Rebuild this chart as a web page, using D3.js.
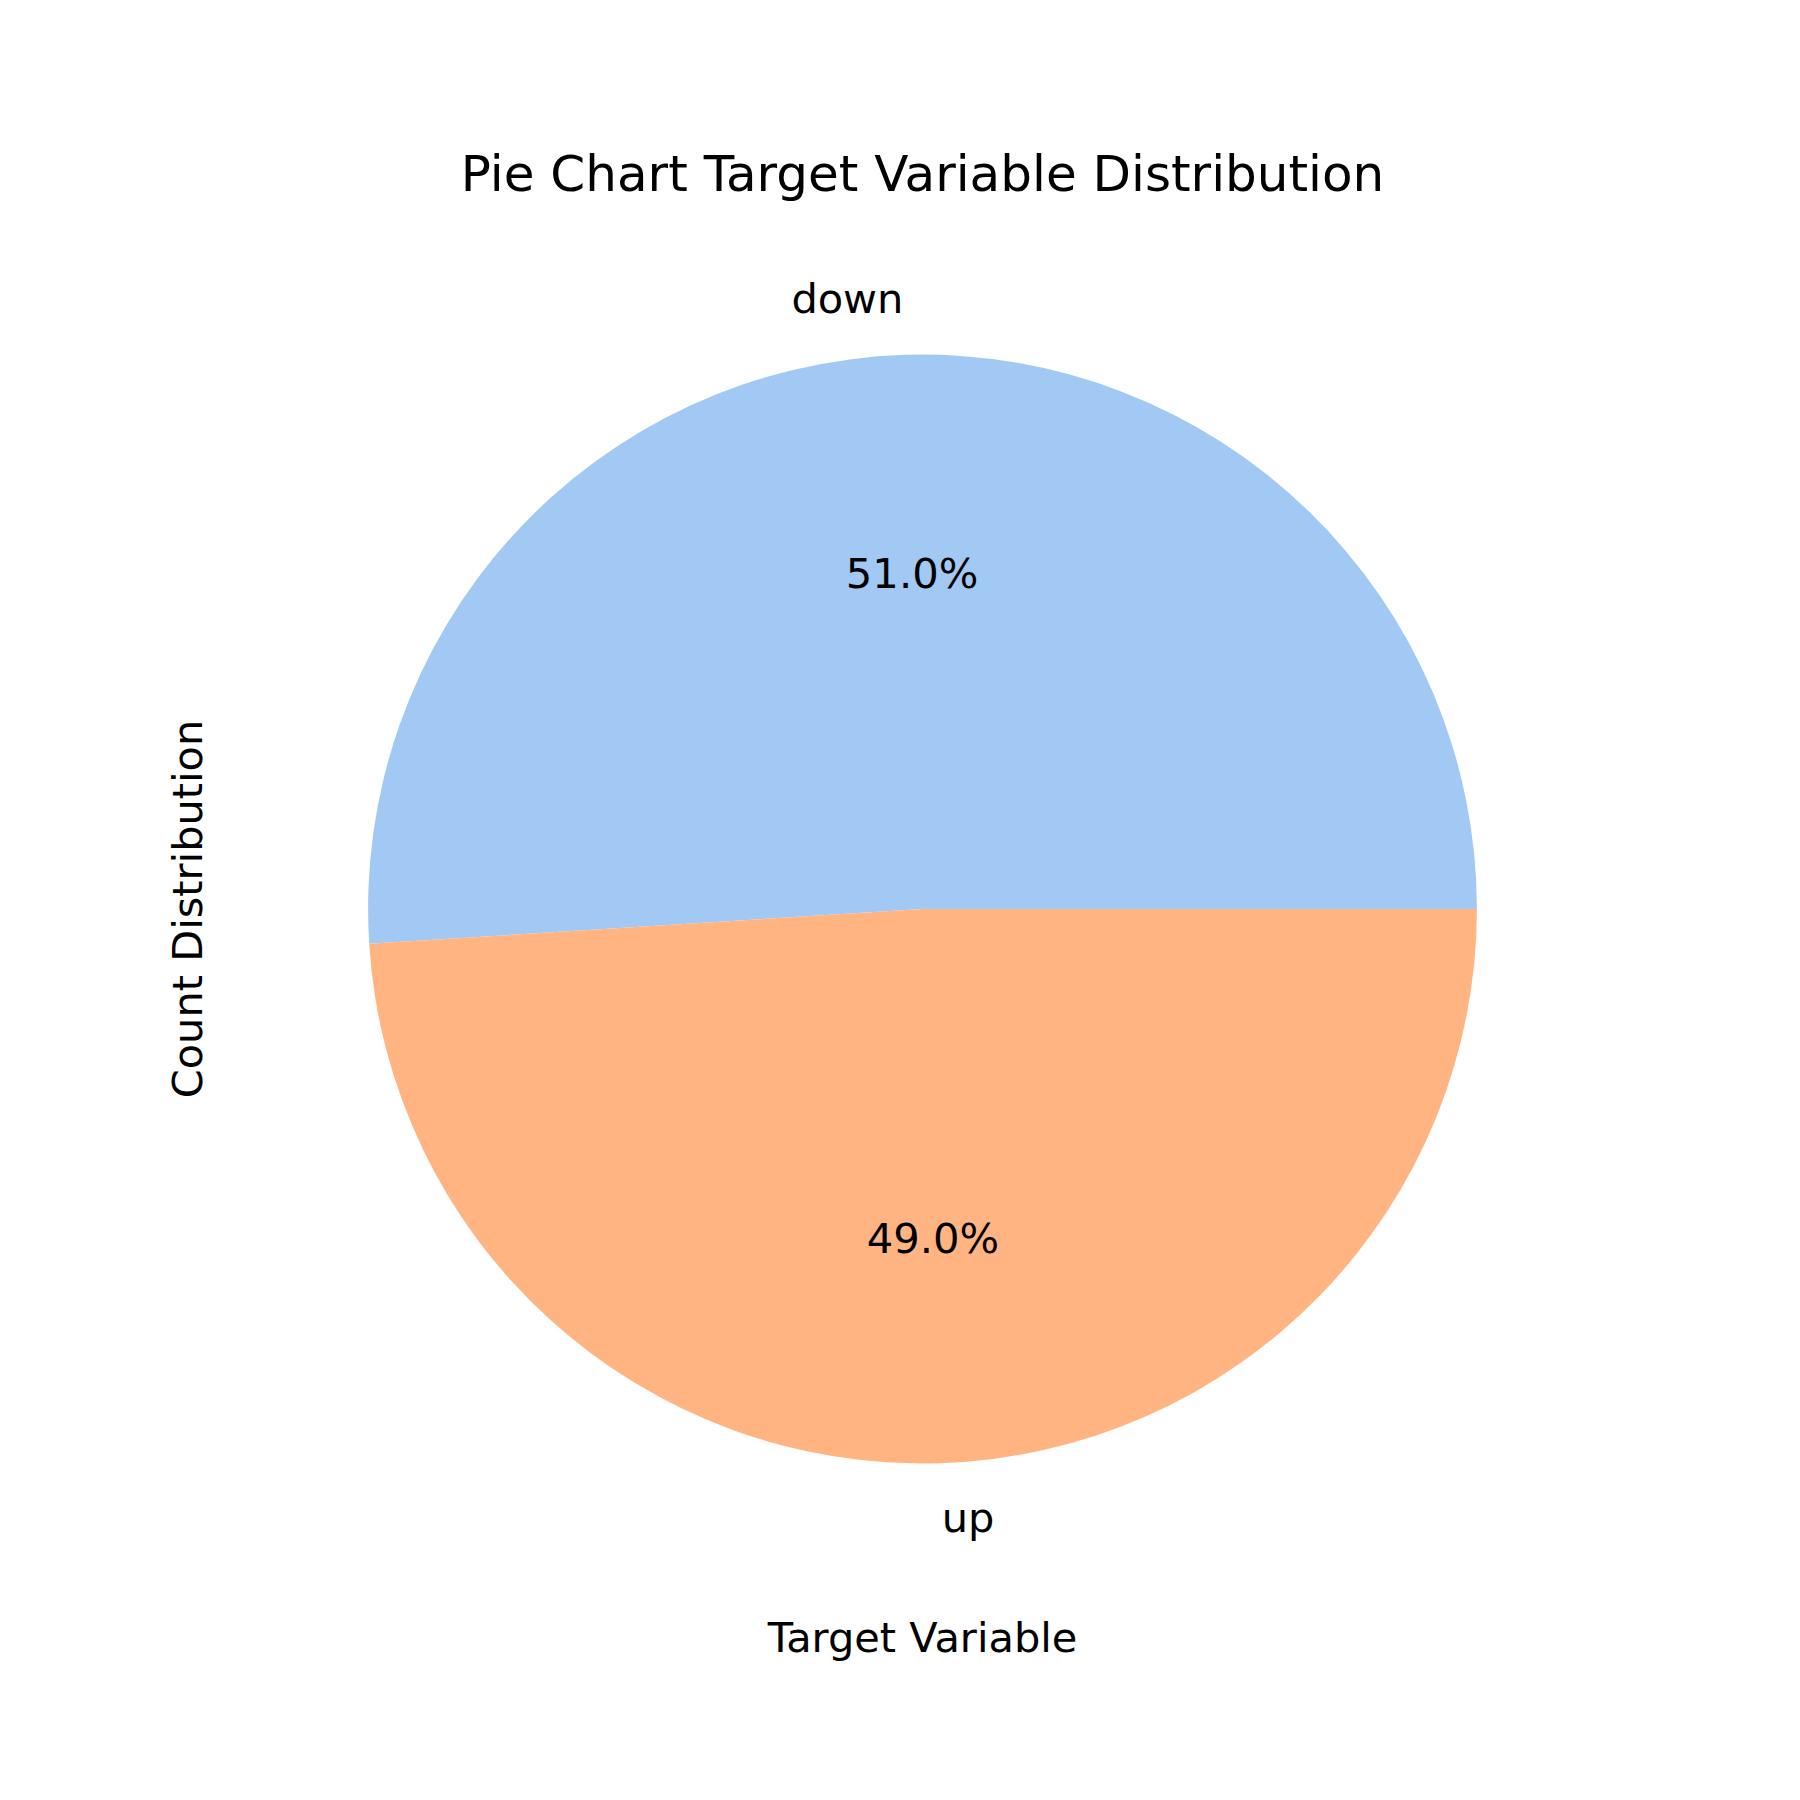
<!DOCTYPE html>
<html>
<head>
<meta charset="utf-8">
<script src="https://cdn.jsdelivr.net/npm/d3@7"></script>
<style>
  html, body { margin: 0; padding: 0; background: #fff; }
  text { font-family: "DejaVu Sans", sans-serif; fill: #000; }
</style>
</head>
<body>
<svg id="chart" width="1800" height="1800"></svg>
<script>
const categories = ["down", "up"];
const values = [51.0, 49.0];
const colors = ["#a1c9f4", "#ffb482"];
const titleText = "Pie Chart Target Variable Distribution";
const xLabel = "Target Variable";
const yLabel = "Count Distribution";

const W = 1800, H = 1800;
const axL = 0.125 * W, axR = 0.9 * W, axT = (1 - 0.88) * H, axB = (1 - 0.11) * H;
const cx = (axL + axR) / 2, cy = (axT + axB) / 2;
const R = Math.min(axR - axL, axB - axT) / 2 / 1.25;

const svg = d3.select("#chart");
svg.append("rect").attr("width", W).attr("height", H).attr("fill", "#fff");

const data = categories.map((c, i) => ({ label: c, value: values[i], color: colors[i] }));
const pie = d3.pie().sort(null).value(d => d.value)
  .startAngle(Math.PI / 2).endAngle(Math.PI / 2 - 2 * Math.PI);
const arcs = pie(data);
const arc = d3.arc().innerRadius(0).outerRadius(R);

const g = svg.append("g").attr("transform", `translate(${cx},${cy})`);
g.selectAll("path").data(arcs).join("path")
  .attr("d", arc).attr("fill", d => d.data.color);

const total = d3.sum(values);
const pos = (d, r) => {
  const mid = (d.startAngle + d.endAngle) / 2; // d3 angle, clockwise from 12 o'clock
  return [r * R * Math.sin(mid), -r * R * Math.cos(mid)];
};

g.selectAll("text.pct").data(arcs).join("text")
  .attr("class", "pct")
  .attr("x", d => pos(d, 0.6)[0])
  .attr("y", d => pos(d, 0.6)[1])
  .attr("dy", "0.28em")
  .attr("text-anchor", "middle")
  .attr("font-size", 41.7)
  .text(d => (d.data.value / total * 100).toFixed(1) + "%");

g.selectAll("text.lbl").data(arcs).join("text")
  .attr("class", "lbl")
  .attr("x", d => pos(d, 1.1)[0])
  .attr("y", d => pos(d, 1.1)[1])
  .attr("dy", "0.33em")
  .attr("text-anchor", d => pos(d, 1.1)[0] < 0 ? "end" : "start")
  .attr("font-size", 41.5)
  .text(d => d.data.label);

svg.append("text")
  .attr("x", cx).attr("y", axT - 25)
  .attr("text-anchor", "middle").attr("font-size", 50)
  .text(titleText);

svg.append("text")
  .attr("x", cx).attr("y", axB + 50)
  .attr("text-anchor", "middle").attr("font-size", 41.5)
  .text(xLabel);

svg.append("text")
  .attr("transform", `translate(${axL - 23},${cy}) rotate(-90)`)
  .attr("text-anchor", "middle").attr("font-size", 41.5)
  .text(yLabel);
</script>
</body>
</html>
